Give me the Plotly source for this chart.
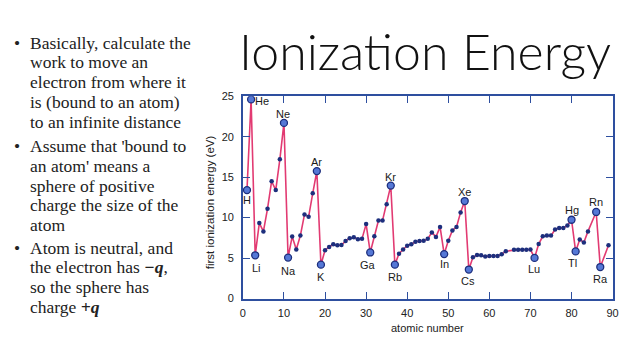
import plotly.graph_objects as go

W, H = 640, 360

# ---- data ----
atomic_number = [1, 2, 3, 4, 5, 6, 7, 8, 9, 10,
                 11, 12, 13, 14, 15, 16, 17, 18, 19, 20,
                 21, 22, 23, 24, 25, 26, 27, 28, 29, 30,
                 31, 32, 33, 34, 35, 36, 37, 38, 39, 40,
                 41, 42, 43, 44, 45, 46, 47, 48, 49, 50,
                 51, 52, 53, 54, 55, 56, 57, 58, 59, 60,
                 61, 62, 63, 64, 66, 67, 68, 69, 70,
                 71, 72, 73, 74, 75, 76, 77, 78, 79, 80,
                 81, 82, 83, 84, 86, 87, 89]
ionization_ev = [13.4, 24.6, 5.35, 9.33, 8.3, 11.1, 14.5, 13.4, 17.2, 21.7,
                 5.07, 7.66, 6.06, 7.8, 10.4, 10.1, 13.0, 15.75, 4.19, 5.98,
                 6.38, 6.7, 6.58, 6.62, 7.1, 7.46, 7.58, 7.34, 7.38, 9.2,
                 5.7, 7.7, 9.65, 9.65, 11.65, 13.96, 4.19, 5.55, 6.06, 6.54,
                 6.7, 7.02, 7.1, 7.14, 7.38, 8.18, 7.62, 8.85, 5.5, 7.14,
                 8.42, 8.85, 10.65, 12.05, 3.59, 5.1, 5.38, 5.34, 5.19, 5.26,
                 5.26, 5.26, 5.47, 5.86, 6.03, 6.03, 6.03, 6.03, 6.05,
                 5.03, 6.74, 7.7, 7.78, 7.78, 8.54, 8.73, 8.73, 9.02, 9.74,
                 5.83, 7.3, 6.94, 8.3, 10.7, 3.9, 6.58]

labeled_z = [1, 2, 3, 10, 11, 18, 19, 31, 36, 37, 49, 54, 55, 71, 80, 81, 86, 87]
labeled_sym = ["H", "He", "Li", "Ne", "Na", "Ar", "K", "Ga", "Kr", "Rb",
               "In", "Xe", "Cs", "Lu", "Hg", "Tl", "Rn", "Ra"]
# label offsets in pixels (xshift, yshift)
label_dx = [0, 11, 1, -1, 0, 0, 0, -2, 0, 0, 0, 0, -1, -1, 0, -3, 0, 0]
label_dy = [-10, -2, -13, 9, -13, 9, -12, -13, 9, -12, -10, 9, -11, -11, 10, -12, 10, -12]

x_ticks = [0, 10, 20, 30, 40, 50, 60, 70, 80, 90]
y_ticks = [0, 5, 10, 15, 20, 25]

title_text = "Ionization Energy"
x_title = "atomic number"
y_title = "first ionization energy (eV)"

bullets = [
    ["Basically, calculate the", "work to move an", "electron from where it",
     "is (bound to an atom)", "to an infinite distance"],
    ["Assume that 'bound to", "an atom' means a", "sphere of positive",
     "charge the size of the", "atom"],
    ["Atom is neutral, and", "the electron has <b><i>\u2212q</i></b>,",
     "so the sphere has", "charge <b><i>+q</i></b>"],
]

# ---- style ----
AXIS_COLOR = "#2e4f9f"
LINE_COLOR = "#e23a72"
DOT_COLOR = "#1d2f7d"
RING_FILL = "#5578d6"
SANS = "Liberation Sans, Arial, sans-serif"
SERIF = "Liberation Serif, Times New Roman, serif"

# plot area in pixels
px_left, px_right, px_top, px_bottom = 243.3, 618.3, 93.3, 302.7

energy_of = dict(zip(atomic_number, ionization_ev))
lab_y = [energy_of[z] for z in labeled_z]

fig = go.Figure()
fig.add_trace(go.Scatter(
    x=atomic_number, y=ionization_ev, mode="lines+markers",
    line=dict(color=LINE_COLOR, width=1.6),
    marker=dict(color=DOT_COLOR, size=4.5),
    hoverinfo="skip", showlegend=False))
fig.add_trace(go.Scatter(
    x=labeled_z, y=lab_y, mode="markers",
    marker=dict(color=RING_FILL, size=7, line=dict(color=DOT_COLOR, width=1.3)),
    hoverinfo="skip", showlegend=False))

annotations = []
for z, yv, s, dx, dy in zip(labeled_z, lab_y, labeled_sym, label_dx, label_dy):
    annotations.append(dict(x=z, y=yv, xref="x", yref="y", text=s, showarrow=False,
                            xshift=dx, yshift=dy, xanchor="center", yanchor="middle",
                            font=dict(family=SANS, size=11, color="#1a1a1a")))

# slide title
annotations.append(dict(x=428 / W, y=1 - 47 / H, xref="paper", yref="paper",
                        text=title_text, showarrow=False, xanchor="center", yanchor="middle",
                        font=dict(family="Lato Light, Open Sans Light, Lato, Open Sans, sans-serif",
                                  size=50, color="#111111", weight=300)))
# axis titles
annotations.append(dict(x=(px_left + px_right) / 2 / W, y=1 - 333 / H, xref="paper", yref="paper",
                        text=x_title, showarrow=False, xanchor="center", yanchor="middle",
                        font=dict(family=SANS, size=11, color="#222222")))
annotations.append(dict(x=210 / W, y=1 - 203 / H, xref="paper", yref="paper",
                        text=y_title, showarrow=False, textangle=-90,
                        xanchor="center", yanchor="middle",
                        font=dict(family=SANS, size=11.5, color="#222222")))

# bullet text
para_start = [38, 145, 250]
line_gap = 20.4
for p, lines in enumerate(bullets):
    y0 = para_start[p]
    annotations.append(dict(x=14 / W, y=1 - y0 / H, xref="paper", yref="paper",
                            text="\u2022", showarrow=False, xanchor="center", yanchor="middle",
                            font=dict(family=SERIF, size=17.5, color="#222222")))
    for i, t in enumerate(lines):
        annotations.append(dict(x=25 / W, y=1 - (y0 + i * line_gap) / H, xref="paper", yref="paper",
                                text=t, showarrow=False, xanchor="left", yanchor="middle",
                                font=dict(family=SERIF, size=17.5, color="#222222")))

axis_common = dict(showline=True, linecolor=AXIS_COLOR, linewidth=1.5, mirror="ticks",
                   ticks="inside", ticklen=7, tickwidth=1.3, tickcolor=AXIS_COLOR,
                   showgrid=False, zeroline=False,
                   tickfont=dict(family=SANS, size=11, color="#222222"))

fig.update_layout(
    width=W, height=H,
    margin=dict(l=0, r=0, t=0, b=0),
    paper_bgcolor="white", plot_bgcolor="white",
    xaxis=dict(range=[0, 90], tickvals=x_ticks, domain=[px_left / W, px_right / W],
               ticklabelstandoff=3, **axis_common),
    yaxis=dict(range=[0, 25], tickvals=y_ticks, domain=[1 - px_bottom / H, 1 - px_top / H],
               ticklabelstandoff=5, **axis_common),
    annotations=annotations,
)

fig.write_html("out.html", config={"displayModeBar": False},
               post_script="document.body.style.margin='0';document.body.style.overflow='hidden';")
